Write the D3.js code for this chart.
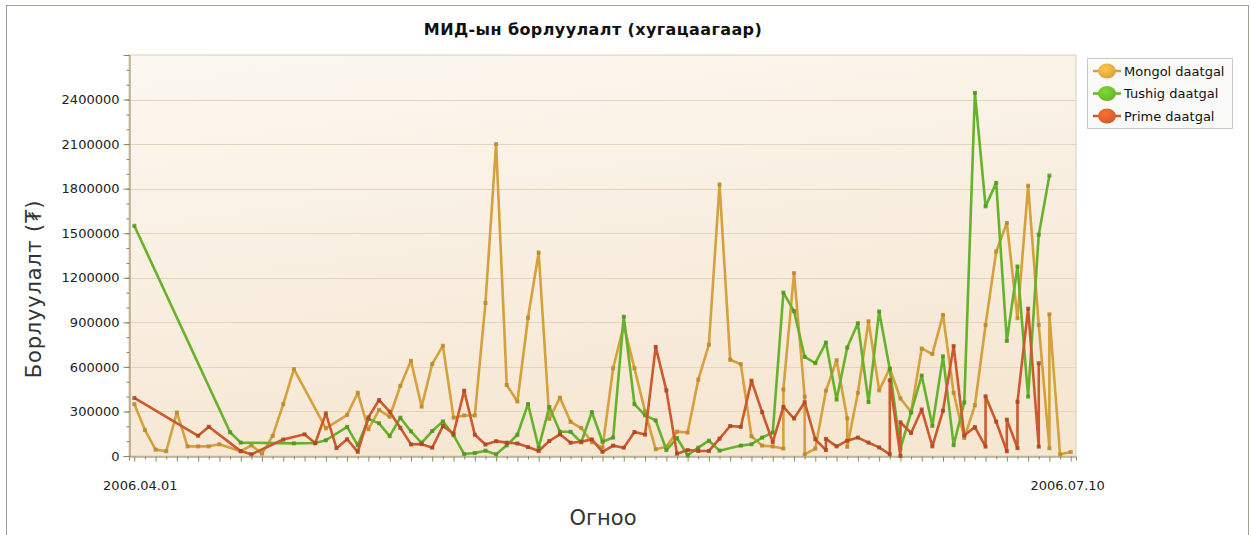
<!DOCTYPE html>
<html><head><meta charset="utf-8">
<script src="https://cdn.jsdelivr.net/npm/d3@7"></script>
<style>body{margin:0;background:#fff} svg{display:block}</style>
</head><body><svg id="c" width="1251" height="535"></svg>
<script>
// ---- data ----
const title = "МИД-ын борлуулалт (хугацаагаар)";
const yTitle = "Борлуулалт (₮)";
const xTitle = "Огноо";
const seriesNames = ["Mongol daatgal", "Tushig daatgal", "Prime daatgal"];
const categoryCount = 89; // distinct sale dates on the qualitative axis
const xTickLabels = [[0, "2006.04.01"], [88, "2006.07.10"]];
const yTicks = [0, 300000, 600000, 900000, 1200000, 1500000, 1800000, 2100000, 2400000];
const yMax = 2700000;

// [category index, value]
const mongol = [[0,350000],[1,175000],[2,43000],[3,32000],[4,293000],[5,65000],[6,65000],[7,65000],[8,79000],[10,32000],[11,72000],[12,16000],[13,135000],[14,349000],[15,585000],[18,186000],[20,277000],[21,426000],[22,180000],[23,311000],[24,264000],[25,472000],[26,641000],[27,332000],[28,620000],[29,742000],[30,258000],[31,273000],[32,273000],[33,1031000],[34,2100000],[35,478000],[36,367000],[37,931000],[38,1370000],[39,250000],[40,393000],[41,230000],[42,188000],[43,93000],[44,56000],[45,591000],[46,880000],[47,591000],[48,300000],[49,45000],[50,63000],[51,164000],[52,158000],[53,514000],[54,750000],[55,1828000],[56,648000],[57,618000],[58,133000],[59,70000],[60,64000],[61,50000],[61,448000],[62,1231000],[63,399000],[63,11000],[64,50000],[65,440000],[66,645000],[67,253000],[67,62000],[68,425000],[69,907000],[70,442000],[71,590000],[72,387000],[73,297000],[74,724000],[75,686000],[76,950000],[77,425000],[78,121000],[79,342000],[80,882000],[81,1377000],[82,1569000],[83,928000],[84,1820000],[85,882000],[86,52000],[86,954000],[87,11000],[88,27000]];

const tushig = [[0,1550000],[9,160000],[10,90000],[15,85000],[17,88000],[18,106000],[20,196000],[21,72000],[22,250000],[23,220000],[24,134000],[25,258000],[26,166000],[27,89000],[28,168000],[29,233000],[30,140000],[31,13000],[32,20000],[33,36000],[34,11000],[35,72000],[36,143000],[37,350000],[38,56000],[39,330000],[40,163000],[41,163000],[42,92000],[43,296000],[44,96000],[45,124000],[46,938000],[47,349000],[48,274000],[49,240000],[50,40000],[51,121000],[52,5000],[53,56000],[54,103000],[55,36000],[57,70000],[58,79000],[59,124000],[60,158000],[61,1100000],[62,975000],[63,667000],[64,625000],[65,764000],[66,380000],[67,730000],[68,894000],[69,363000],[70,973000],[71,584000],[72,50000],[73,293000],[74,542000],[75,203000],[76,671000],[77,73000],[78,360000],[79,2445000],[80,1681000],[81,1839000],[82,775000],[83,1276000],[84,400000],[85,1490000],[86,1888000]];

const prime = [[0,391000],[6,136000],[7,197000],[10,33000],[11,11000],[14,111000],[16,146000],[17,86000],[18,287000],[19,53000],[20,113000],[21,28000],[22,260000],[23,377000],[24,298000],[25,190000],[26,78000],[27,80000],[28,56000],[29,202000],[30,150000],[31,440000],[32,143000],[33,77000],[34,100000],[35,90000],[36,84000],[37,60000],[38,34000],[39,101000],[40,146000],[41,89000],[42,96000],[43,112000],[44,28000],[45,70000],[46,56000],[47,162000],[48,144000],[49,735000],[50,442000],[51,15000],[52,40000],[53,34000],[54,34000],[55,117000],[56,202000],[57,196000],[58,507000],[59,295000],[60,93000],[61,331000],[62,252000],[63,362000],[64,112000],[65,40000],[65,115000],[66,65000],[67,103000],[68,124000],[69,90000],[70,58000],[71,11000],[71,510000],[72,0],[72,227000],[73,155000],[74,313000],[75,65000],[76,305000],[77,740000],[78,138000],[79,195000],[80,63000],[80,402000],[81,231000],[82,32000],[82,245000],[83,53000],[83,365000],[84,992000],[85,63000],[85,625000]];

const seriesColors = ["#D6A03C", "#66B22A", "#CC5A2C"];
const markerColors = ["#B8862C", "#4F9120", "#A8441E"];

// ---- chart ----
const svg = d3.select("#c");
const plot = {l: 129, r: 1076, t: 55, b: 456};
const FONT = "DejaVu Sans, Verdana, sans-serif";

const defs = svg.append("defs");
const bg = defs.append("linearGradient").attr("id", "pbg").attr("x1", 0).attr("y1", 0).attr("x2", 0.3).attr("y2", 1);
bg.append("stop").attr("offset", "0%").attr("stop-color", "#FCF8F1");
bg.append("stop").attr("offset", "100%").attr("stop-color", "#F6E7D3");

// outer border
svg.append("rect").attr("x", 6.5).attr("y", 5.5).attr("width", 1242).attr("height", 540)
  .attr("fill", "#fff").attr("stroke", "#A79E92").attr("stroke-width", 1);

// plot background
svg.append("rect").attr("x", plot.l).attr("y", plot.t).attr("width", plot.r - plot.l).attr("height", plot.b - plot.t)
  .attr("fill", "url(#pbg)").attr("stroke", "#DCCDB8").attr("stroke-width", 1);

const x = d3.scalePoint().domain(d3.range(categoryCount)).range([plot.l, plot.r]).padding(0.5);
const y = d3.scaleLinear().domain([0, yMax]).range([plot.b, plot.t]);

// gridlines
svg.append("g").selectAll("line").data(yTicks.filter(v => v > 0)).join("line")
  .attr("x1", plot.l).attr("x2", plot.r)
  .attr("y1", d => Math.round(y(d)) + 0.5).attr("y2", d => Math.round(y(d)) + 0.5)
  .attr("stroke", "#E4D4BE").attr("stroke-width", 1);

const axisColor = "#8E875C";
const minor = d3.range(0, yMax + 1, 100000);
svg.append("g").attr("transform", `translate(${plot.l + 0.5},0)`)
  .call(d3.axisLeft(y).tickValues(minor).tickSize(3).tickFormat(""))
  .call(g => g.select(".domain").remove())
  .call(g => g.selectAll("line").attr("stroke", axisColor));
const yAxis = svg.append("g").attr("transform", `translate(${plot.l + 0.5},0)`)
  .call(d3.axisLeft(y).tickValues(yTicks).tickSize(6).tickPadding(4).tickFormat(d3.format("d")));
yAxis.select(".domain").attr("stroke", axisColor);
yAxis.selectAll("line").attr("stroke", axisColor);
yAxis.selectAll("text").attr("font-family", FONT).attr("font-size", 13).attr("fill", "#222");

const xAxis = svg.append("g").attr("transform", `translate(0,${plot.b + 0.5})`)
  .call(d3.axisBottom(x).tickSize(4).tickFormat(""));
xAxis.select(".domain").attr("stroke", axisColor);
xAxis.selectAll(".tick line").attr("stroke", axisColor).attr("y2", (d, i) => i % 2 ? 3 : 5);

svg.append("g").selectAll("text").data(xTickLabels).join("text")
  .attr("x", d => x(d[0])).attr("y", 490)
  .attr("dx", (d, i) => i === 0 ? 6 : -3)
  .attr("text-anchor", "middle").attr("font-family", FONT).attr("font-size", 13).attr("fill", "#222")
  .text(d => d[1]);

// titles
svg.append("text").attr("x", 593).attr("y", 35).attr("text-anchor", "middle")
  .attr("font-family", FONT).attr("font-weight", "bold").attr("font-size", 16).attr("letter-spacing", 0.4)
  .attr("fill", "#111").text(title);
svg.append("text").attr("x", 603).attr("y", 525).attr("text-anchor", "middle")
  .attr("font-family", FONT).attr("font-size", 21).attr("fill", "#333").text(xTitle);
svg.append("text").attr("transform", "translate(41,289) rotate(-90)").attr("text-anchor", "middle")
  .attr("font-family", FONT).attr("font-size", 21).attr("letter-spacing", 0.8).attr("fill", "#333").text(yTitle);

// series
const line = d3.line().x(d => x(d[0])).y(d => y(d[1]));
const allSeries = [mongol, tushig, prime];
defs.append("clipPath").attr("id", "pc").append("rect")
  .attr("x", plot.l).attr("y", plot.t).attr("width", plot.r - plot.l).attr("height", plot.b - plot.t + 2);
const sg = svg.append("g").attr("clip-path", "url(#pc)");
allSeries.forEach((s, i) => {
  sg.append("path").datum(s).attr("d", line).attr("fill", "none")
    .attr("stroke", seriesColors[i]).attr("stroke-width", 2.6).attr("stroke-linejoin", "round");
  sg.append("g").selectAll("rect").data(s).join("rect")
    .attr("x", d => x(d[0]) - 2).attr("y", d => y(d[1]) - 2).attr("width", 4).attr("height", 4)
    .attr("fill", markerColors[i]).attr("opacity", 0.8);
});

// legend
const lg = svg.append("g");
lg.append("rect").attr("x", 1087.5).attr("y", 58.5).attr("width", 145).attr("height", 70)
  .attr("fill", "#FAFAF8").attr("stroke", "#CFC8BC");
seriesNames.forEach((n, i) => {
  const cy = 71 + i * 22.5;
  const gid = "lgrad" + i;
  const rg = defs.append("radialGradient").attr("id", gid).attr("cx", "40%").attr("cy", "35%").attr("r", "70%");
  rg.append("stop").attr("offset", "0%").attr("stop-color", d3.color(seriesColors[i]).brighter(0.6));
  rg.append("stop").attr("offset", "100%").attr("stop-color", seriesColors[i]);
  lg.append("line").attr("x1", 1093).attr("x2", 1121).attr("y1", cy).attr("y2", cy)
    .attr("stroke", seriesColors[i]).attr("stroke-width", 2.5);
  lg.append("ellipse").attr("cx", 1107).attr("cy", cy).attr("rx", 9).attr("ry", 7.5)
    .attr("fill", `url(#${gid})`);
  lg.append("text").attr("x", 1124).attr("y", cy + 4.5).attr("font-family", FONT).attr("font-size", 13)
    .attr("fill", "#111").text(n);
});
</script></body></html>
